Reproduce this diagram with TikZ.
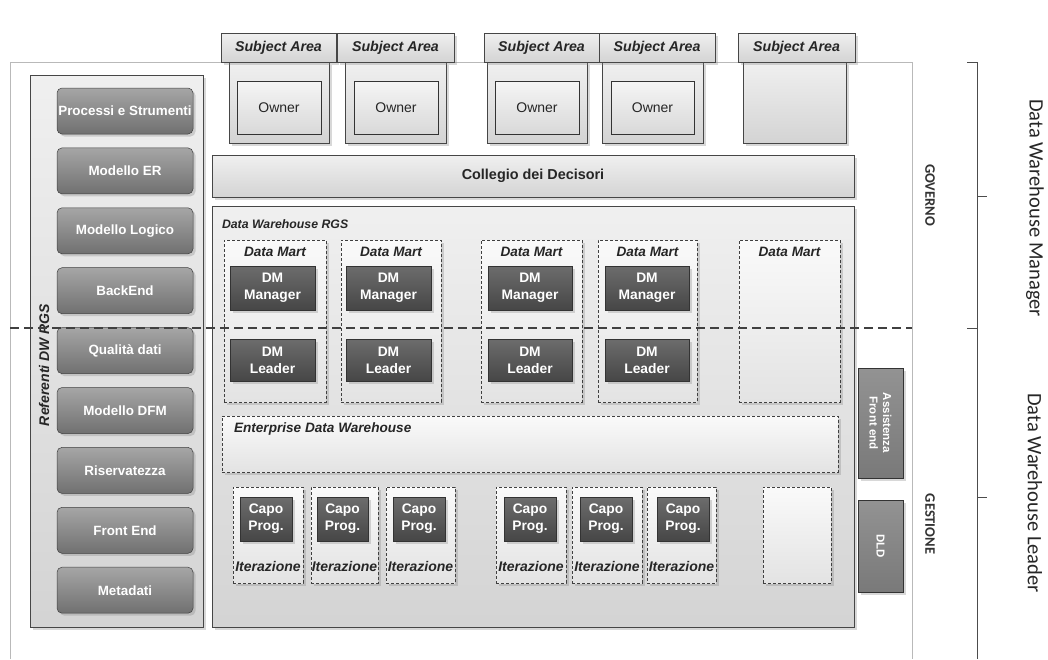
\documentclass[tikz,border=0pt]{standalone}
\usepackage{fontspec}
\setmainfont{Liberation Sans}
\newfontfamily\carlito{Carlito}
\usetikzlibrary{fit,shadows}
\tikzset{
 frameline/.style={draw=gray!55, line width=0.7pt},
 shad/.style={drop shadow={opacity=0.3, shadow xshift=2.5pt, shadow yshift=-2.5pt, fill=gray}},
 panel/.style={draw=gray!55!black, line width=0.6pt, top color=gray!12, bottom color=gray!34},
 tabbox/.style={panel, shad},
 tabtext/.style={font=\bfseries\itshape\fontsize{14.2}{16}\selectfont, text=black!85},
 colbox/.style={panel, shad},
 ownerbox/.style={draw=gray!40!black, line width=0.6pt, top color=gray!8, bottom color=gray!30},
 ownertext/.style={font=\fontsize{14}{16}\selectfont, text=black!85},
 btn/.style={draw=gray!50!black, line width=0.5pt, rounded corners=5pt, top color=gray!70, bottom color=gray!88!black, text=white, font=\bfseries\fontsize{13.4}{15}\selectfont, minimum width=136pt, minimum height=46pt, shad},
 dashbox/.style={draw=black!75, densely dashed, line width=0.6pt, top color=gray!4, bottom color=gray!22, shad},
 darkbox/.style={draw=black!80, line width=0.6pt, top color=gray!85!black, bottom color=gray!55!black, shad},
 darktext/.style={text=white, font=\bfseries\fontsize{13.8}{17}\selectfont, align=center},
 sidebox/.style={draw=gray!40!black, line width=0.6pt, top color=gray!85, bottom color=gray!95!black, shad},
 sidetext/.style={text=white, font=\bfseries\fontsize{11.5}{13.5}\selectfont, align=center, rotate=-90},
 lbl/.style={font=\bfseries\itshape\fontsize{13.6}{15}\selectfont, text=black!85},
 divider/.style={draw=black!75, line width=1.7pt, dash pattern=on 9pt off 5pt},
 bracket/.style={draw=gray!60!black, line width=0.7pt},
 sectext/.style={font=\carlito\bfseries\fontsize{14.5}{16}\selectfont, text=black!80, rotate=-90},
 roletext/.style={font=\carlito\fontsize{20.5}{24}\selectfont, text=black!85, rotate=-90},
}
\begin{document}
\begin{tikzpicture}[x=1pt,y=-1pt, every node/.style={inner sep=0pt, outer sep=0pt}]
\useasboundingbox (0,0) rectangle (1048,659);
\fill[white] (0,0) rectangle (1048,659);

% outer frame
\draw[frameline] (10,659) -- (10,62) -- (912,62) -- (912,659);

% left panel
\node[panel, shad, fit={(30,75) (203,627)}] (refpanel) {};
\node[font=\bfseries\itshape\fontsize{14}{16}\selectfont, text=black!85, rotate=90] (reflbl) at (44,365) {Referenti DW RGS};
\foreach \t [count=\i] in {Processi e Strumenti, Modello ER, Modello Logico, BackEnd, Qualità dati, Modello DFM, Riservatezza, Front End, Metadati}
  \node[btn] (b\i) at (125,51.1+59.9*\i) {\t};

% owner columns
\node[colbox, fit={(229,62) (329,143)}] (col1) {};
\node[colbox, fit={(345,62) (446,143)}] (col2) {};
\node[colbox, fit={(487,62) (587,143)}] (col3) {};
\node[colbox, fit={(602,62) (703,143)}] (col4) {};
\node[colbox, fit={(743,62) (846,143)}] (col5) {};
\node[ownerbox, fit={(237,81) (321,134)}] (own1) {};
\node[ownerbox, fit={(354,81) (438,134)}] (own2) {};
\node[ownerbox, fit={(495,81) (579,134)}] (own3) {};
\node[ownerbox, fit={(611,81) (694,134)}] (own4) {};
\foreach \i in {1,...,4}
  \node[ownertext] (ownt\i) at (own\i.center) {Owner};

% subject area tabs
\node[tabbox, fit={(221,33) (336,62)}] (sa1) {};
\node[tabbox, fit={(337,33) (454,62)}] (sa2) {};
\node[tabbox, fit={(484,33) (599,62)}] (sa3) {};
\node[tabbox, fit={(599,33) (715,62)}] (sa4) {};
\node[tabbox, fit={(738,33) (855,62)}] (sa5) {};
\foreach \i in {1,...,5}
  \node[tabtext] (sat\i) at (sa\i.center) {Subject Area};

% collegio
\node[panel, shad, fit={(212,155) (854,197)}] (coll) {};
\node[font=\bfseries\fontsize{14.4}{16}\selectfont, text=black!85] (collt) at (coll.center) {Collegio dei Decisori};

% DW RGS
\node[panel, shad, fit={(212,206) (854,627)}] (dw) {};
\node[font=\bfseries\itshape\fontsize{12.3}{14}\selectfont, text=black!85, anchor=west] (dwlbl) at (222,224) {Data Warehouse RGS};

% data marts
\node[dashbox, fit={(224,240) (326,402)}] (dm1) {};
\node[dashbox, fit={(341,240) (441,402)}] (dm2) {};
\node[dashbox, fit={(481,240) (582,402)}] (dm3) {};
\node[dashbox, fit={(598,240) (697,402)}] (dm4) {};
\node[dashbox, fit={(739,240) (840,402)}] (dm5) {};
\foreach \i in {1,...,5}
  \node[lbl, anchor=north, yshift=-7pt] (dml\i) at (dm\i.north) {Data Mart};

\node[darkbox, fit={(230,266) (315,310)}] (man1) {};
\node[darkbox, fit={(346,266) (431,310)}] (man2) {};
\node[darkbox, fit={(488,266) (572,310)}] (man3) {};
\node[darkbox, fit={(605,266) (689,310)}] (man4) {};
\node[darkbox, fit={(230,339) (315,381)}] (lead1) {};
\node[darkbox, fit={(346,339) (431,381)}] (lead2) {};
\node[darkbox, fit={(488,339) (572,381)}] (lead3) {};
\node[darkbox, fit={(605,339) (689,381)}] (lead4) {};
\foreach \i in {1,...,4} {
  \node[darktext] (mant\i) at (man\i.center) {DM\\Manager};
  \node[darktext] (leadt\i) at (lead\i.center) {DM\\Leader};
}

% EDW
\node[dashbox, fit={(222,416) (838,472)}] (edw) {};
\node[lbl, anchor=west] (edwlbl) at (234,429) {Enterprise Data Warehouse};

% iterations
\node[dashbox, fit={(233,487) (303,583)}] (it1) {};
\node[dashbox, fit={(311,487) (378,583)}] (it2) {};
\node[dashbox, fit={(386,487) (455,583)}] (it3) {};
\node[dashbox, fit={(496,487) (566,583)}] (it4) {};
\node[dashbox, fit={(572,487) (642,583)}] (it5) {};
\node[dashbox, fit={(647,487) (716,583)}] (it6) {};
\node[dashbox, fit={(763,487) (831,583)}] (it7) {};
\node[darkbox, fit={(240,497) (292,541)}] (cp1) {};
\node[darkbox, fit={(317,497) (368,541)}] (cp2) {};
\node[darkbox, fit={(393,497) (445,541)}] (cp3) {};
\node[darkbox, fit={(504,497) (556,541)}] (cp4) {};
\node[darkbox, fit={(580,497) (632,541)}] (cp5) {};
\node[darkbox, fit={(657,497) (709,541)}] (cp6) {};
\foreach \i in {1,...,6} {
  \node[lbl, font=\bfseries\itshape\fontsize{14}{16}\selectfont] (itl\i) at ([yshift=17pt]it\i.south) {Iterazione};
  \node[darktext] (cpt\i) at (cp\i.center) {Capo\\Prog.};
}

% side boxes
\node[sidebox, fit={(858,368) (903,478)}] (af) {};
\node[sidetext] (aft) at (af.center) {Assistenza\\Front end};
\node[sidebox, fit={(858,500) (903,592)}] (dld) {};
\node[sidetext] (dldt) at (dld.center) {DLD};

% section labels
\node[sectext] (gov) at (930,195) {GOVERNO};
\node[sectext] (ges) at (930,524) {GESTIONE};

% divider
\coordinate (divl) at (10,328);
\coordinate (divr) at (912,328);
\draw[divider] (divl) -- (divr);

% brackets
\draw[bracket] (967,62) -- (977,62) -- (977,659);
\draw[bracket] (977,196) -- (987,196);
\draw[bracket] (967,328) -- (977,328);
\draw[bracket] (977,497) -- (987,497);
\node[roletext] (dwm) at (1035,208) {Data Warehouse Manager};
\node[roletext] (dwl) at (1035,493) {Data Warehouse Leader};
\end{tikzpicture}
\end{document}
